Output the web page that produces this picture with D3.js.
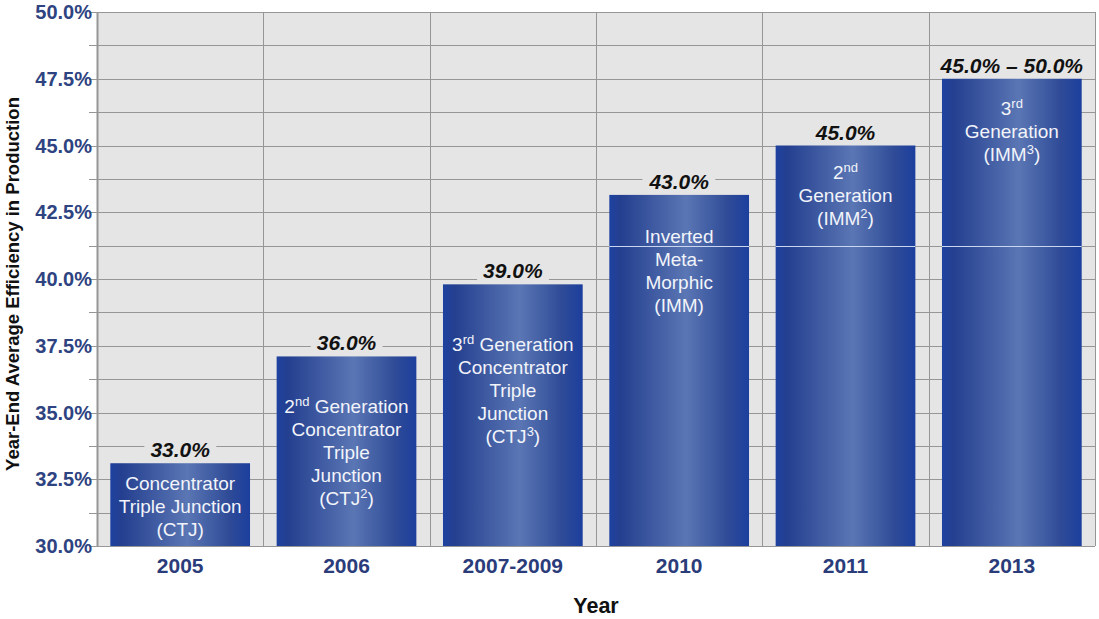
<!DOCTYPE html>
<html>
<head>
<meta charset="utf-8">
<script src="https://cdn.jsdelivr.net/npm/d3@7"></script>
<style>
  body { margin: 0; background: #fff; }
  svg { display: block; font-family: Arial, "Liberation Sans", sans-serif; }
</style>
</head>
<body>
<script>
// categories and values (bar tops)
var years = ["2005", "2006", "2007-2009", "2010", "2011", "2013"];
var efficiency = [33.1, 37.1, 39.8, 43.15, 45.0, 47.5];
var valueLabels = ["33.0%", "36.0%", "39.0%", "43.0%", "45.0%", "45.0% \u2013 50.0%"];
// ^{..} marks superscript
var barTexts = [
  ["Concentrator", "Triple Junction", "(CTJ)"],
  ["2^{nd} Generation", "Concentrator", "Triple", "Junction", "(CTJ^{2})"],
  ["3^{rd} Generation", "Concentrator", "Triple", "Junction", "(CTJ^{3})"],
  ["Inverted", "Meta-", "Morphic", "(IMM)"],
  ["2^{nd}", "Generation", "(IMM^{2})"],
  ["3^{rd}", "Generation", "(IMM^{3})"]
];
var yTicks = [30, 32.5, 35, 37.5, 40, 42.5, 45, 47.5, 50];

var width = 1099, height = 619;
var margin = {top: 12, right: 4, bottom: 73, left: 97};

// where the first text line sits below the bar top (px)
var textTop = [27, 57, 67, 48, 33, 36];
var lineH = 23;

var svg = d3.select("body").append("svg")
    .attr("width", width)
    .attr("height", height);

var x = d3.scaleBand()
    .domain(years)
    .range([margin.left, width - margin.right])
    .paddingInner(0.16)
    .paddingOuter(0.08);

var y = d3.scaleLinear()
    .domain([30, 50])
    .range([height - margin.bottom, margin.top]);

// gradient for bars
var defs = svg.append("defs");
var grad = defs.append("linearGradient")
    .attr("id", "barGrad")
    .attr("x1", "0%").attr("x2", "100%").attr("y1", "0%").attr("y2", "0%");
[["0%", "#1e42a0"], ["8%", "#243f8f"], ["55%", "#5a76b4"], ["85%", "#2f4b97"], ["100%", "#1c3f9e"]]
  .forEach(function (s) {
    grad.append("stop").attr("offset", s[0]).attr("stop-color", s[1]);
  });

// plot background
var x0 = x.range()[0], x1 = x.range()[1];
svg.append("rect")
    .attr("x", x0).attr("y", y(50))
    .attr("width", x1 - x0).attr("height", y(30) - y(50))
    .attr("fill", "#e5e5e5");

// horizontal grid every 1.25
svg.append("g").selectAll("line")
    .data(d3.range(30, 50.01, 1.25))
    .enter().append("line")
    .attr("x1", x0 - 8).attr("x2", x1)
    .attr("y1", function (d) { return Math.round(y(d)) + 0.5; })
    .attr("y2", function (d) { return Math.round(y(d)) + 0.5; })
    .attr("stroke", "#969696");

// vertical grid at category boundaries
svg.append("g").selectAll("line")
    .data(d3.range(0, years.length + 1))
    .enter().append("line")
    .attr("x1", function (i) { return Math.round(x0 + i * x.step()) + 0.5; })
    .attr("x2", function (i) { return Math.round(x0 + i * x.step()) + 0.5; })
    .attr("y1", y(50)).attr("y2", y(30))
    .attr("stroke", "#969696")
    .attr("stroke-width", function (i) { return i == 0 ? 2 : 1; });

// bars
svg.append("g").selectAll("rect")
    .data(years)
    .enter().append("rect")
    .attr("x", function (d) { return x(d); })
    .attr("width", x.bandwidth())
    .attr("y", function (d, i) { return y(efficiency[i]); })
    .attr("height", function (d, i) { return y(30) - y(efficiency[i]); })
    .attr("fill", "url(#barGrad)");

// faint line that shows through the tall bars
svg.append("g").selectAll("line")
    .data(years.filter(function (d, i) { return efficiency[i] > 41.25; }))
    .enter().append("line")
    .attr("x1", function (d) { return x(d); })
    .attr("x2", function (d) { return x(d) + x.bandwidth(); })
    .attr("y1", Math.round(y(41.25)) + 0.5).attr("y2", Math.round(y(41.25)) + 0.5)
    .attr("stroke", "#c9d6ef");

// text inside bars
function addRich(textSel, str) {
  var parts = str.split(/(\^\{[^}]*\})/);
  var sup = false;
  parts.forEach(function (p) {
    if (!p) return;
    if (p.charAt(0) == "^") {
      textSel.append("tspan").attr("dy", -7).attr("font-size", 13).text(p.slice(2, -1));
      sup = true;
    } else {
      textSel.append("tspan").attr("dy", sup ? 7 : 0).text(p);
      sup = false;
    }
  });
}

years.forEach(function (d, i) {
  var cx = x(d) + x.bandwidth() / 2;
  var top = y(efficiency[i]);
  barTexts[i].forEach(function (line, k) {
    var t = svg.append("text")
        .attr("x", cx)
        .attr("y", top + textTop[i] + k * lineH)
        .attr("dy", "0.35em")
        .attr("text-anchor", "middle")
        .attr("fill", "#f2f4fa")
        .attr("font-size", 19);
    addRich(t, line);
  });
});

// value labels above bars, with a patch of background behind them
var vl = svg.append("g");
years.forEach(function (d, i) {
  var cx = x(d) + x.bandwidth() / 2;
  var g = vl.append("g");
  var t = g.append("text")
      .attr("x", cx)
      .attr("y", y(efficiency[i]) - 6)
      .attr("text-anchor", "middle")
      .attr("font-size", 21)
      .attr("font-weight", "bold")
      .attr("font-style", "italic")
      .attr("fill", "#111")
      .text(valueLabels[i]);
  var bb = t.node().getBBox();
  g.insert("rect", "text")
      .attr("x", bb.x - 6).attr("y", bb.y + 2)
      .attr("width", bb.width + 12).attr("height", bb.height - 3)
      .attr("fill", "#e5e5e5");
});

// y axis labels
svg.append("g").selectAll("text")
    .data(yTicks)
    .enter().append("text")
    .attr("x", x0 - 5)
    .attr("y", function (d) { return y(d); })
    .attr("dy", "0.36em")
    .attr("text-anchor", "end")
    .attr("font-size", 20)
    .attr("font-weight", "bold")
    .attr("fill", "#2e4381")
    .text(function (d) { return d3.format(".1f")(d) + "%"; });

// x axis labels
svg.append("g").selectAll("text")
    .data(years)
    .enter().append("text")
    .attr("x", function (d) { return x(d) + x.bandwidth() / 2; })
    .attr("y", y(30) + 27)
    .attr("text-anchor", "middle")
    .attr("font-size", 21)
    .attr("font-weight", "bold")
    .attr("fill", "#2b3c7a")
    .text(function (d) { return d; });

// axis titles
svg.append("text")
    .attr("x", (x0 + x1) / 2)
    .attr("y", 613)
    .attr("text-anchor", "middle")
    .attr("font-size", 21.5)
    .attr("font-weight", "bold")
    .attr("fill", "#111")
    .text("Year");

svg.append("text")
    .attr("transform", "translate(19,284) rotate(-90)")
    .attr("text-anchor", "middle")
    .attr("font-size", 18.5)
    .attr("font-weight", "bold")
    .attr("fill", "#111")
    .text("Year-End Average Efficiency in Production");
</script>
</body>
</html>
